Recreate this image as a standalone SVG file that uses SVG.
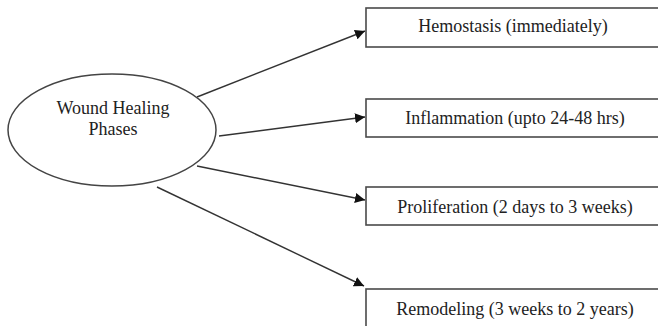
<svg xmlns="http://www.w3.org/2000/svg" width="658" height="326" viewBox="0 0 658 326">
<style>
.box{fill:#fff;stroke:#4a4a4a;stroke-width:1.6}
.lbl{font-family:'Liberation Serif','Times New Roman',Times,serif;font-size:18px;fill:#222;text-anchor:middle}
.con{stroke:#333;stroke-width:1.4;fill:none;marker-end:url(#ah)}
</style>
<defs>
<marker id="ah" viewBox="0 0 10 10" refX="10" refY="5" markerWidth="10" markerHeight="10" markerUnits="userSpaceOnUse" orient="auto">
<path d="M0,0 L10,5 L0,10 z" fill="#111"/>
</marker>
</defs>
<rect width="658" height="326" fill="#fff"/>
<g id="connectors">
<line class="con" x1="197" y1="97" x2="365" y2="31"/>
<line class="con" x1="219" y1="136" x2="365" y2="117"/>
<line class="con" x1="197" y1="166" x2="365" y2="200"/>
<line class="con" x1="157" y1="187" x2="364" y2="286"/>
</g>
<g id="center">
<ellipse cx="112" cy="130" rx="104" ry="56" fill="#fff" stroke="#444" stroke-width="1.5"/>
<text class="lbl" x="113" y="114">Wound Healing</text>
<text class="lbl" x="113" y="135">Phases</text>
</g>
<g id="hemostasis">
<rect class="box" x="366" y="8" width="300" height="39"/>
<text class="lbl" x="513" y="32">Hemostasis (immediately)</text>
</g>
<g id="inflammation">
<rect class="box" x="366" y="99" width="300" height="38"/>
<text class="lbl" x="515" y="124">Inflammation (upto 24-48 hrs)</text>
</g>
<g id="proliferation">
<rect class="box" x="366" y="187" width="300" height="38"/>
<text class="lbl" x="515" y="213">Proliferation (2 days to 3 weeks)</text>
</g>
<g id="remodeling">
<rect class="box" x="366" y="289" width="300" height="40"/>
<text class="lbl" x="515" y="315">Remodeling (3 weeks to 2 years)</text>
</g>
</svg>
